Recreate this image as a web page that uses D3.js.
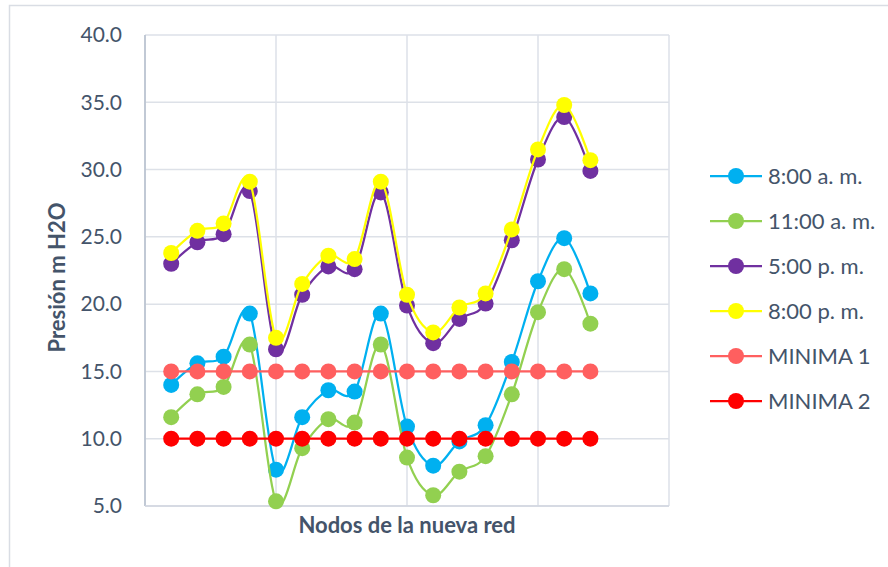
<!DOCTYPE html>
<html>
<head>
<meta charset="utf-8">
<script src="https://cdn.jsdelivr.net/npm/d3@7"></script>
<style>
    body { margin: 0; background: #fff; }
    text { font-family: Lato, "Open Sans", sans-serif; fill: #44546a; }
</style>
</head>
<body>
<div id="chart"></div>
<script>
// node index along the x axis (1..17)
const nodes = d3.range(1, 18);

const seriesNames = ["8:00 a. m.", "11:00 a. m.", "5:00 p. m.", "8:00 p. m.", "MINIMA 1", "MINIMA 2"];
const seriesColors = ["#00b0f0", "#92d050", "#7030a0", "#ffff00", "#ff5f5f", "#ff0000"];

const am8 = [14.0, 15.6, 16.1, 19.3, 7.7, 11.6, 13.6, 13.5, 19.3, 10.9, 8.0, 9.8, 11.0, 15.7, 21.7, 24.9, 20.8];
const am11 = [11.6, 13.3, 13.85, 17.0, 5.35, 9.3, 11.45, 11.2, 17.0, 8.6, 5.8, 7.55, 8.7, 13.3, 19.4, 22.6, 18.55];
const pm5 = [23.0, 24.6, 25.2, 28.4, 16.65, 20.7, 22.8, 22.6, 28.3, 19.9, 17.1, 18.9, 20.05, 24.75, 30.75, 33.9, 29.9];
const pm8 = [23.8, 25.45, 26.0, 29.1, 17.5, 21.5, 23.6, 23.35, 29.1, 20.7, 17.9, 19.75, 20.8, 25.55, 31.5, 34.8, 30.7];
const minima1 = [15, 15, 15, 15, 15, 15, 15, 15, 15, 15, 15, 15, 15, 15, 15, 15, 15];
const minima2 = [10, 10, 10, 10, 10, 10, 10, 10, 10, 10, 10, 10, 10, 10, 10, 10, 10];

const yTicks = [5, 10, 15, 20, 25, 30, 35, 40];
const xGrid = [0, 5, 10, 15, 20];

const allSeries = [am8, am11, pm5, pm8, minima1, minima2];

const width = 888, height = 567;
const margin = { top: 35, right: 219, bottom: 61, left: 145 };
const innerW = width - margin.left - margin.right;
const innerH = height - margin.top - margin.bottom;

const svg = d3.select("#chart").append("svg")
    .attr("width", width)
    .attr("height", height);

// chart frame (runs off the right and bottom of the picture)
svg.append("rect")
    .attr("x", 9.5).attr("y", 5.5)
    .attr("width", 1000).attr("height", 1000)
    .attr("fill", "none")
    .attr("stroke", "#d9dde4")
    .attr("stroke-width", 1.5);

const g = svg.append("g").attr("transform", `translate(${margin.left},${margin.top})`);

const x = d3.scaleLinear().domain([0, 20]).range([0, innerW]);
const y = d3.scaleLinear().domain([5, 40]).range([innerH, 0]);

// grid
g.append("g").selectAll("line").data(yTicks).join("line")
    .attr("x1", 0).attr("x2", innerW)
    .attr("y1", d => y(d)).attr("y2", d => y(d))
    .attr("stroke", "#dde1e8").attr("stroke-width", 1.5);
g.append("g").selectAll("line").data(xGrid).join("line")
    .attr("x1", d => x(d)).attr("x2", d => x(d))
    .attr("y1", 0).attr("y2", innerH)
    .attr("stroke", "#dde1e8").attr("stroke-width", 1.5);

// axes
g.append("line").attr("x1", 0).attr("x2", 0).attr("y1", 0).attr("y2", innerH)
    .attr("stroke", "#b4bfcd").attr("stroke-width", 1.5);
g.append("line").attr("x1", 0).attr("x2", innerW).attr("y1", innerH).attr("y2", innerH)
    .attr("stroke", "#d0d6df").attr("stroke-width", 1.5);

const yAxis = g.append("g")
    .call(d3.axisLeft(y).tickValues(yTicks).tickFormat(d3.format(".1f")).tickSize(0).tickPadding(23));
yAxis.select(".domain").remove();
yAxis.selectAll("text")
    .style("font-size", "21px")
    .attr("fill", "#44546a");

// series
const line = d3.line()
    .x((d, i) => x(nodes[i]))
    .y(d => y(d))
    .curve(d3.curveCatmullRom.alpha(0));

allSeries.forEach((vals, k) => {
    const sg = g.append("g");
    sg.append("path")
        .attr("d", line(vals))
        .attr("fill", "none")
        .attr("stroke", seriesColors[k])
        .attr("stroke-width", 2.25);
    sg.selectAll("circle").data(vals).join("circle")
        .attr("cx", (d, i) => x(nodes[i]))
        .attr("cy", d => y(d))
        .attr("r", 8)
        .attr("fill", seriesColors[k]);
});

// axis titles
svg.append("text")
    .attr("x", margin.left + innerW / 2)
    .attr("y", 533)
    .attr("text-anchor", "middle")
    .style("font-size", "22px")
    .style("font-weight", "bold")
    .text("Nodos de la nueva red");

svg.append("text")
    .attr("transform", `translate(65, ${margin.top + innerH / 2 + 7}) rotate(-90)`)
    .attr("text-anchor", "middle")
    .style("font-size", "22px")
    .style("font-weight", "bold")
    .text("Presión m H2O");

// legend
const legend = svg.append("g").attr("transform", "translate(710, 176)");
seriesNames.forEach((name, k) => {
    const row = legend.append("g").attr("transform", `translate(0, ${k * 45})`);
    row.append("line").attr("x1", 0).attr("x2", 52)
        .attr("stroke", seriesColors[k]).attr("stroke-width", 2.25);
    row.append("circle").attr("cx", 26).attr("r", 8).attr("fill", seriesColors[k]);
    row.append("text").attr("x", 58).attr("dy", "0.35em")
        .style("font-size", "22px")
        .text(name);
});
</script>
</body>
</html>
